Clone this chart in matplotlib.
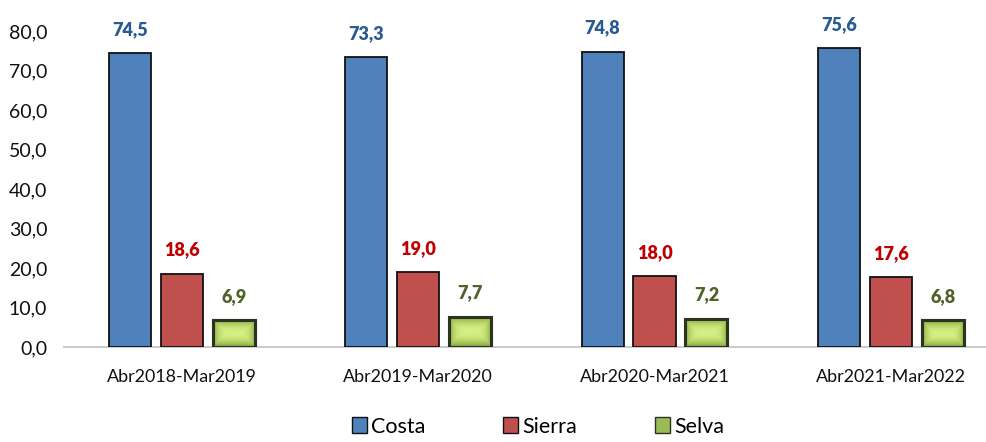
import numpy as np
import matplotlib.pyplot as plt
from matplotlib.patches import Patch

periods = ["Abr2018-Mar2019", "Abr2019-Mar2020", "Abr2020-Mar2021", "Abr2021-Mar2022"]
costa = [74.5, 73.3, 74.8, 75.6]
sierra = [18.6, 19.0, 18.0, 17.6]
selva = [6.9, 7.7, 7.2, 6.8]
yticks = [0, 10, 20, 30, 40, 50, 60, 70, 80]


def fmt(v):
    return ("%.1f" % v).replace(".", ",")


def main():
    plt.rcParams['font.family'] = ["Lato", "DejaVu Sans"]

    fig = plt.figure(figsize=(9.87, 4.42), dpi=100)
    ax = fig.add_axes([64 / 987, 95 / 442, 1 - 64 / 987, (347 - 31) / 442])

    x = np.arange(len(periods))
    w = 0.178
    off = 0.22

    b1 = ax.bar(x - off, costa, w, color="#4f81bd", edgecolor="#111111",
                linewidth=1.3, zorder=3)
    b2 = ax.bar(x, sierra, w, color="#c0504d", edgecolor="#111111",
                linewidth=1.3, zorder=3)
    b3 = ax.bar(x + off, selva, w, color="#9bbb59", edgecolor="#2c3320",
                linewidth=2.2, zorder=3)

    # bevel-like gradient for the Selva bars
    gx = np.linspace(-1, 1, 60)
    gy = np.linspace(-1, 1, 30)
    GX, GY = np.meshgrid(gx, gy)
    shade = 1 - np.maximum(np.abs(GX) ** 4, np.abs(GY) ** 2)
    c_dark = np.array([0.50, 0.64, 0.22])
    c_light = np.array([0.84, 0.94, 0.52])
    img = c_dark + (c_light - c_dark) * shade[..., None]
    for rect in b3:
        x0, y0 = rect.get_x(), rect.get_y()
        im = ax.imshow(img, extent=(x0, x0 + rect.get_width(), y0,
                                    y0 + rect.get_height()),
                       aspect="auto", zorder=3.5, interpolation="bilinear")
        im.set_clip_path(rect)
    for rect in b3:
        ax.add_patch(plt.Rectangle((rect.get_x(), rect.get_y()),
                                   rect.get_width(), rect.get_height(),
                                   fill=False, edgecolor="#2c3320",
                                   linewidth=2.2, zorder=4))

    for bars, vals, col in [(b1, costa, "#2a5a94"), (b2, sierra, "#c00000"),
                            (b3, selva, "#4f6228")]:
        for rect, v in zip(bars, vals):
            ax.text(rect.get_x() + rect.get_width() / 2, v + 3.8, fmt(v),
                    ha="center", va="bottom", fontsize=13,
                    fontweight="heavy", color=col, clip_on=False)

    ax.set_ylim(0, 80)
    ax.set_xlim(-0.5, -0.5 + (987 - 64) / 236.2)
    ax.set_yticks(yticks)
    ax.set_yticklabels([fmt(v) for v in yticks], fontsize=14)
    ax.set_xticks(x)
    ax.set_xticklabels(periods, fontsize=12.9)
    ax.tick_params(axis="both", length=0, colors="#111111")
    ax.tick_params(axis="x", pad=16)
    ax.tick_params(axis="y", pad=12)
    for s in ["top", "right", "left"]:
        ax.spines[s].set_visible(False)
    ax.spines["bottom"].set_color("#cccccc")
    ax.spines["bottom"].set_linewidth(1.5)

    handles = [Patch(facecolor="#4f81bd", edgecolor="#111111", label="Costa"),
               Patch(facecolor="#c0504d", edgecolor="#111111", label="Sierra"),
               Patch(facecolor="#9bbb59", edgecolor="#2c3320", label="Selva")]
    fig.legend(handles=handles, loc="center", ncol=3, frameon=False,
               bbox_to_anchor=(0.545, 0.035), fontsize=15.5, handlelength=0.7,
               handleheight=0.7, handletextpad=0.2, columnspacing=3.6)

    fig.savefig("out.png", dpi=100)


if __name__ == "__main__":
    main()
